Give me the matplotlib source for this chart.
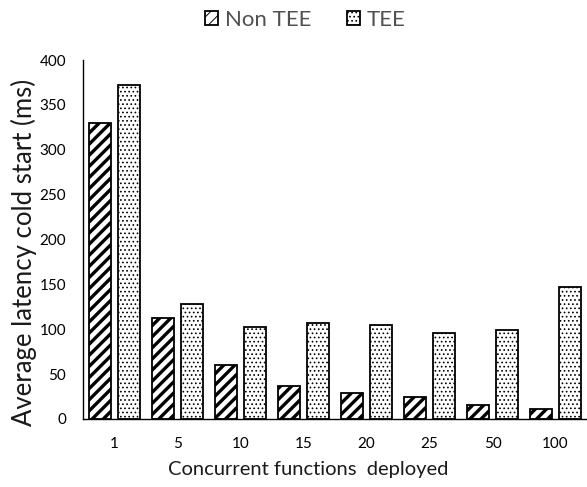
import matplotlib
matplotlib.use("Agg")
import matplotlib.pyplot as plt
import numpy as np

categories = ["1", "5", "10", "15", "20", "25", "50", "100"]
non_tee = [330, 112, 60, 37, 29, 24, 16, 11]
tee = [372, 128, 102, 107, 105, 96, 99, 147]
series_names = ["Non TEE", "TEE"]
y_ticks = [0, 50, 100, 150, 200, 250, 300, 350, 400]

plt.rcParams["font.family"] = ["Lato", "DejaVu Sans"]

fig = plt.figure(figsize=(5.87, 4.87), dpi=100)
ax = fig.add_axes([83 / 587, 68 / 487, 504 / 587, 359 / 487])

x = np.arange(len(categories))
w = 0.35
off = 0.23


def hatched_bars(xpos, values, hatch, hatch_lw, label):
    plt.rcParams["hatch.linewidth"] = hatch_lw
    bars = ax.bar(xpos, values, width=w, facecolor="white", edgecolor="black",
                  linewidth=1.3, hatch=hatch, label=label)
    for p in bars:
        if hasattr(p, "set_hatch_linewidth"):
            p.set_hatch_linewidth(hatch_lw)
    return bars


b1 = hatched_bars(x - off, non_tee, "///", 2.4, series_names[0])
b2 = hatched_bars(x + off, tee, "....", 0.7, series_names[1])

ax.set_xlim(-0.5, len(categories) - 0.5)
ax.set_ylim(0, 400)
ax.set_yticks(y_ticks)
ax.set_xticks(x)
ax.set_xticklabels(categories)
ax.tick_params(axis="both", length=0, labelsize=11, colors="black")
ax.tick_params(axis="x", pad=13)
ax.tick_params(axis="y", pad=12)
for s in ["top", "right"]:
    ax.spines[s].set_visible(False)
ax.spines["left"].set_linewidth(1.0)
ax.spines["bottom"].set_linewidth(1.0)

ax.set_xlabel("Concurrent functions  deployed", fontsize=14.5, color="#1a1a1a")
ax.xaxis.set_label_coords(0.446, -0.118)
ax.set_ylabel("Average latency cold start (ms)", fontsize=18.5, color="#1a1a1a")
ax.yaxis.set_label_coords(-0.092, 0.464)

fig.legend(handles=[b1, b2], loc="upper center", bbox_to_anchor=(0.52, 1.02),
           ncol=2, frameon=False, fontsize=16, handlelength=0.6, handleheight=0.6,
           handletextpad=0.3, columnspacing=1.6, labelcolor="#505050")

fig.savefig("out.png", dpi=100)
